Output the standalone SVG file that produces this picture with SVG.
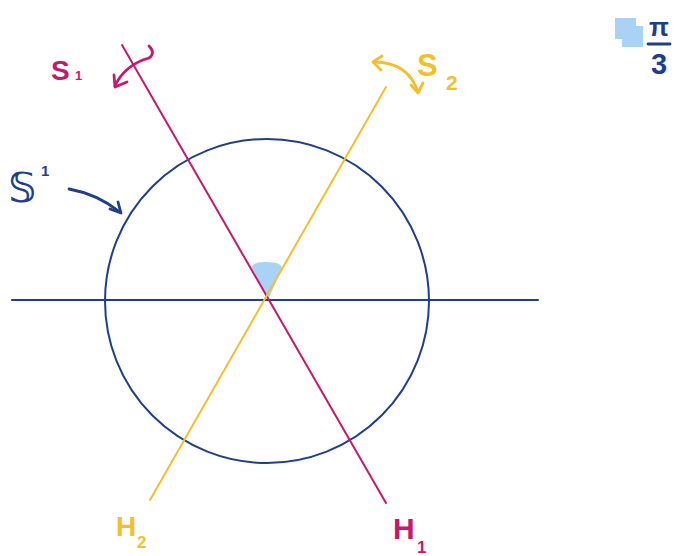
<svg xmlns="http://www.w3.org/2000/svg" width="681" height="556" viewBox="0 0 681 556">
<style>
.ln{fill:none;stroke-width:2;stroke-linecap:round;stroke-linejoin:round}
.hand{fill:none;stroke-width:2.8;stroke-linecap:round;stroke-linejoin:round}
.mag{stroke:#c8176f}
.yel{stroke:#f4bf2c}
.blu{stroke:#1f3f8c}
.t{font-family:"Liberation Sans","DejaVu Sans",sans-serif;font-weight:bold}
</style>
<rect width="681" height="556" fill="#ffffff"/>
<g id="angle">
<path d="M268,300 L252,268 Q251,262 266,262 Q281,262 282,268 Z" fill="#a9d2f5"/>
</g>
<g id="circle">
<circle cx="267" cy="301" r="162" class="ln blu"/>
</g>
<g id="connectors">
<line x1="12" y1="300" x2="538" y2="300" class="ln blu"/>
<line x1="122" y1="45" x2="386" y2="503" class="ln mag"/>
<line x1="386" y1="87" x2="150" y2="500" class="ln yel"/>
<path d="M115,86 C121,72 134,62 149,58 Q156,53 149,46" class="hand mag"/>
<path d="M114,75 L115,87 L127,82" class="hand mag"/>
<path d="M374,62 Q408,62 418,92" class="hand yel"/>
<path d="M382,56 L373,62 L381,70" class="hand yel"/>
<path d="M411,85 L418,93 L423,83" class="hand yel"/>
<path d="M69,189 Q97,194 120,212" class="hand blu"/>
<path d="M110,209 L121,213 L118,202" class="hand blu"/>
</g>
<g id="label-S1">
<text x="51" y="80" class="t" font-size="28" fill="#c8176f">S</text>
<text x="75" y="80" class="t" font-size="13" fill="#c8176f">1</text>
</g>
<g id="label-S2">
<text x="417" y="76" class="t" font-size="31" fill="#f4bf2c">S</text>
<text x="446" y="90" class="t" font-size="21" fill="#f4bf2c">2</text>
</g>
<g id="label-circle">
<text x="8" y="202" class="t" font-size="40" fill="#1f3f8c">𝕊</text>
<text x="41" y="176" class="t" font-size="15" fill="#1f3f8c">1</text>
</g>
<g id="label-H2">
<text x="116" y="536" class="t" font-size="28" fill="#f4bf2c">H</text>
<text x="137" y="548" class="t" font-size="17" fill="#f4bf2c">2</text>
</g>
<g id="label-H1">
<text x="393" y="539" class="t" font-size="30" fill="#c8176f">H</text>
<text x="417" y="553" class="t" font-size="17" fill="#c8176f">1</text>
</g>
<g id="label-angle">
<rect x="615" y="18" width="21" height="21" fill="#a9d2f5"/>
<rect x="622" y="26" width="21" height="21" fill="#a9d2f5"/>
<text x="659" y="36" class="t" font-size="26" fill="#1f3f8c" text-anchor="middle">π</text>
<line x1="648" y1="44" x2="670" y2="44" class="hand blu"/>
<text x="659" y="74" class="t" font-size="29" fill="#1f3f8c" text-anchor="middle">3</text>
</g>
</svg>
